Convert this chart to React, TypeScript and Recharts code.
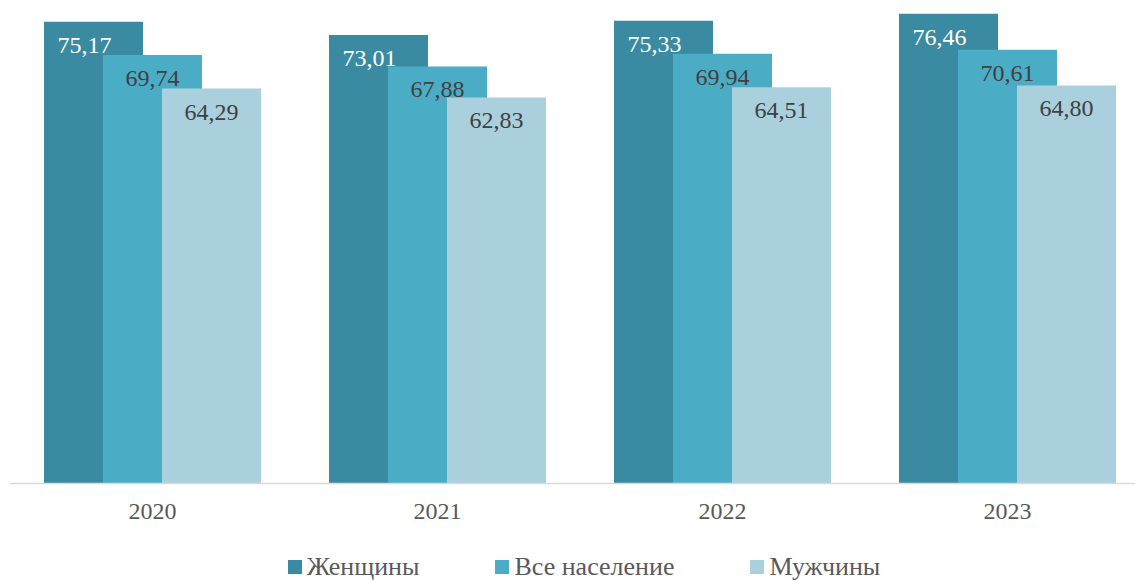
import React from 'react';
import { BarChart, Bar, XAxis, YAxis, Legend } from 'recharts';

const years = ['2020', '2021', '2022', '2023'];
const women = [75.17, 73.01, 75.33, 76.46];
const all = [69.74, 67.88, 69.94, 70.61];
const men = [64.29, 62.83, 64.51, 64.8];
const seriesNames = ['Женщины', 'Все население', 'Мужчины'];
const colors = ['#3A8BA1', '#4BACC6', '#AACFDD'];

const data = years.map((y, i) => ({ year: y, women: women[i], all: all[i], men: men[i] }));

const FONT = 'Liberation Serif, Times New Roman, serif';

const fmt = (v: number) => v.toFixed(2).replace('.', ',');

const makeLabel = (fill: string, dx: number) => (props: any) => {
  const { x, y, width, value } = props;
  return (
    <text
      x={x + width / 2 + dx}
      y={y + 31}
      textAnchor="middle"
      fill={fill}
      fontSize={24}
      style={{ fontFamily: FONT }}
    >
      {fmt(value)}
    </text>
  );
};

const Tick = (props: any) => {
  const { x, y, payload } = props;
  return (
    <text x={x} y={y + 27.5} textAnchor="middle" fill="#595959" fontSize={24} style={{ fontFamily: FONT }}>
      {payload.value}
    </text>
  );
};

const LegendContent = () => (
  <div
    style={{
      display: 'flex',
      justifyContent: 'center',
      alignItems: 'center',
      height: 33,
      paddingLeft: 8,
      paddingTop: 5,
      boxSizing: 'border-box',
      fontFamily: FONT,
      fontSize: 26,
      color: '#595959',
      lineHeight: '30px',
    }}
  >
    {seriesNames.map((n, i) => (
      <div
        key={n}
        style={{ display: 'flex', alignItems: 'center', marginRight: i < seriesNames.length - 1 ? 76 : 0 }}
      >
        <span style={{ display: 'inline-block', width: 14, height: 14, background: colors[i], marginRight: 5, marginTop: 0 }} />
        <span>{n}</span>
      </div>
    ))}
  </div>
);

export default function App() {
  return (
    <div style={{ position: 'absolute', left: 0, top: 0, width: 1135, height: 581, overflow: 'hidden', background: '#fff' }}>
      <BarChart
        width={1160}
        height={581}
        data={data}
        margin={{ top: 4.3, right: 10, bottom: 0, left: 10 }}
        barSize={99}
        barGap={-40}
      >
        <XAxis
          dataKey="year"
          axisLine={{ stroke: '#D9D9D9', strokeWidth: 1.5 }}
          tickLine={false}
          tick={<Tick />}
          height={64.5}
          interval={0}
        />
        <YAxis hide domain={[0, 78]} allowDataOverflow />
        <Legend verticalAlign="bottom" content={<LegendContent />} />
        <Bar dataKey="women" name={seriesNames[0]} fill={colors[0]} isAnimationActive={false} label={makeLabel('#FFFFFF', -9)} />
        <Bar dataKey="all" name={seriesNames[1]} fill={colors[1]} isAnimationActive={false} label={makeLabel('#404040', 0)} />
        <Bar dataKey="men" name={seriesNames[2]} fill={colors[2]} isAnimationActive={false} label={makeLabel('#404040', 0)} />
      </BarChart>
    </div>
  );
}
